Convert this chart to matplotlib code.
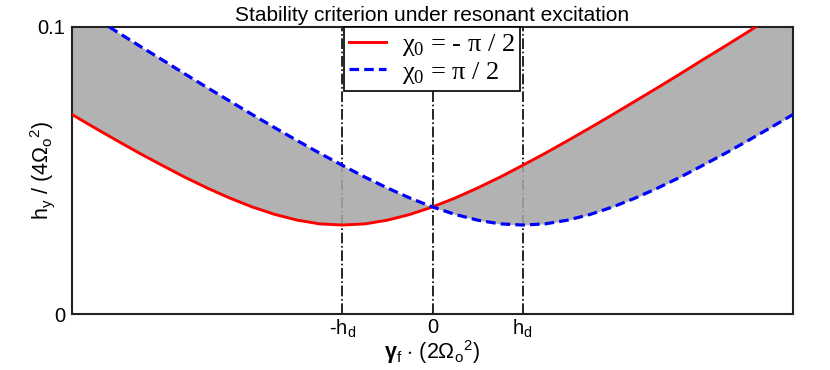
import numpy as np
import matplotlib
matplotlib.use("Agg")
import matplotlib.pyplot as plt

plt.rcParams['font.family'] = ['Liberation Sans', 'DejaVu Sans']
plt.rcParams['mathtext.fontset'] = 'custom'
plt.rcParams['mathtext.rm'] = 'Liberation Sans'
plt.rcParams['mathtext.it'] = 'Liberation Sans'
plt.rcParams['mathtext.bf'] = 'Liberation Sans:bold'
plt.rcParams['mathtext.cal'] = 'Liberation Serif'  # used for legend subscripts

# x in units of h_d
gamma = [-4.0, -3.75, -3.5, -3.25, -3.0, -2.75, -2.5, -2.25, -2.0, -1.75, -1.5,
         -1.25, -1.0, -0.75, -0.5, -0.25, 0.0, 0.25, 0.5, 0.75, 1.0, 1.25, 1.5,
         1.75, 2.0, 2.25, 2.5, 2.75, 3.0, 3.25, 3.5, 3.75, 4.0]
h_minus = [0.0695, 0.0649, 0.0604, 0.0560, 0.0518, 0.0477, 0.0439, 0.0404,
           0.0373, 0.0347, 0.0327, 0.0314, 0.0310, 0.0314, 0.0327, 0.0347,
           0.0373, 0.0404, 0.0439, 0.0477, 0.0518, 0.0560, 0.0604, 0.0649,
           0.0695, 0.0742, 0.0789, 0.0837, 0.0886, 0.0934, 0.0983, 0.1033, 0.1082]
h_plus = h_minus[::-1]
tick_pos = [-1, 0, 1]
tick_labels = [r'-$\mathrm{h_d}$', '0', r'$\mathrm{h_d}$']

fig = plt.figure(figsize=(8.3, 3.7), dpi=100)
ax = fig.add_axes([72 / 830, 1 - 314 / 370, 721 / 830, 287 / 370])

for xp in tick_pos:
    ax.axvline(xp, color='black', linestyle='-.', linewidth=1.2, zorder=1)

ax.fill_between(gamma, h_minus, h_plus, color=(0.66, 0.66, 0.66), alpha=0.88,
                linewidth=0, zorder=2)
ax.plot(gamma, h_minus, color='#ff0000', linewidth=2.1, zorder=3,
        label=r'χ$_\mathcal{0}$ = - π / 2')
ax.plot(gamma, h_plus, color='#0000ff', linewidth=2.3, linestyle=(0, (3, 1.6)),
        zorder=3, label=r'χ$_\mathcal{0}$ = π / 2')

ax.set_xlim(-4, 4)
ax.set_ylim(0, 0.1)
ax.set_xticks(tick_pos, tick_labels)
ax.set_yticks([0, 0.1], ['0', '0.1'])
ax.tick_params(length=0, labelsize=14.5)
ax.tick_params(axis='x', pad=3)
ax.tick_params(axis='y', pad=5)
for sp in ax.spines.values():
    sp.set_linewidth(1.5)
    sp.set_color('#222222')

ax.set_title('Stability criterion under resonant excitation', fontsize=15, pad=4)
ax.set_xlabel(r'$\mathbf{\gamma}_\mathrm{f}$ $\cdot$ (2$\Omega_\mathrm{o}{}^2$)',
              fontsize=15.5, labelpad=-2)
ax.set_ylabel(r'$\mathrm{h_y}$ / (4$\Omega_\mathrm{o}{}^2$)', fontsize=15.5)
ax.yaxis.set_label_coords(-0.021, 0.5)

leg = ax.legend(loc='upper center', bbox_to_anchor=(0.4995, 1.0), fancybox=False,
                framealpha=1, edgecolor='black', handlelength=1.4,
                borderaxespad=0, borderpad=0.2, labelspacing=0.05,
                handletextpad=0.6,
                prop={'family': ['Liberation Serif', 'DejaVu Serif'], 'size': 19})
leg.get_frame().set_linewidth(1.2)

fig.savefig('out.png', dpi=100)
